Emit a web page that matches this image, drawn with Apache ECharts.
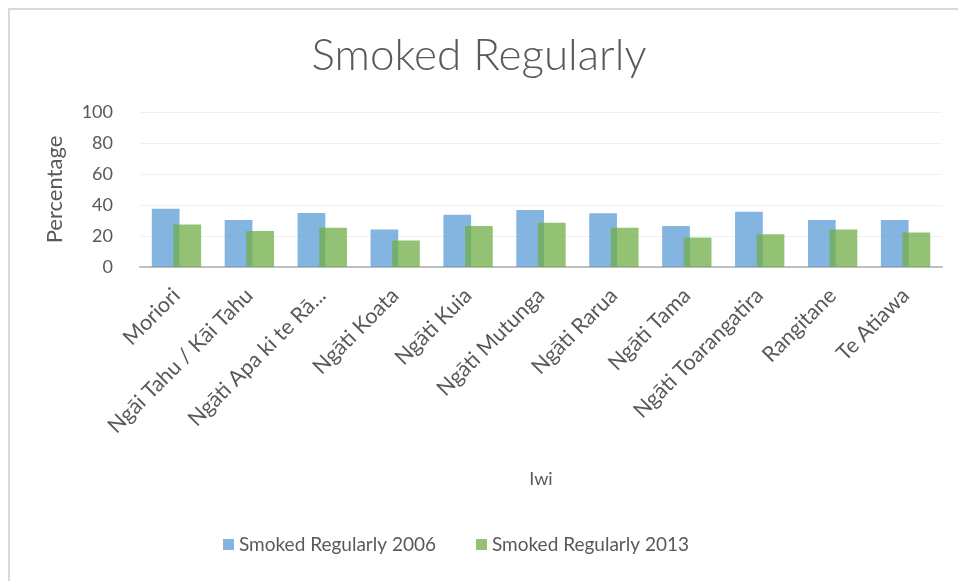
<!DOCTYPE html>
<html>
<head>
<meta charset="utf-8">
<script src="https://cdn.jsdelivr.net/npm/echarts@6/dist/echarts.min.js"></script>
<style>html,body{margin:0;padding:0;background:#fff;}#c{width:958px;height:581px;}</style>
</head>
<body>
<div id="c"></div>
<script>
const categories = ["Moriori","Ngāi Tahu / Kāi Tahu","Ngāti Apa ki te Rā...","Ngāti Koata","Ngāti Kuia","Ngāti Mutunga","Ngāti Rarua","Ngāti Tama","Ngāti Toarangatira","Rangitane","Te Atiawa"];
const series2006 = [37.6,30.4,34.8,24.2,33.7,36.7,34.6,26.4,35.6,30.4,30.4];
const series2013 = [27.5,23.3,25.3,17.1,26.4,28.5,25.3,19.0,21.2,24.2,22.3];
const seriesNames = ["Smoked Regularly 2006","Smoked Regularly 2013"];
const yTicks = {min:0,max:100,interval:20};

const FONT = "Lato, 'Open Sans', sans-serif";
const TXT = '#595959';
const chart = echarts.init(document.getElementById('c'), null, {renderer:'canvas'});
chart.setOption({
  animation:false,
  backgroundColor:'#fff',
  graphic:[{type:'rect',shape:{x:9,y:9,width:980,height:600},style:{fill:'none',stroke:'#d9d9d9',lineWidth:2},silent:true}],
  title:{text:'Smoked Regularly',left:'center',top:29,textStyle:{fontFamily:FONT,fontWeight:300,fontSize:44,color:TXT}},
  grid:{left:140,right:16,top:112,bottom:314,containLabel:false},
  legend:{bottom:22,left:218,itemWidth:11,itemHeight:11,itemGap:40,icon:'rect',
    textStyle:{fontFamily:FONT,fontSize:19,color:TXT},data:seriesNames},
  xAxis:{type:'category',data:categories,name:'Iwi',nameLocation:'middle',nameGap:203,
    nameTextStyle:{fontFamily:FONT,fontSize:18,color:TXT},
    axisLine:{lineStyle:{color:'#bfbfbf',width:2}},axisTick:{show:false},
    axisLabel:{rotate:45,interval:0,fontFamily:FONT,fontSize:21.5,color:TXT,margin:25}},
  yAxis:{type:'value',min:yTicks.min,max:yTicks.max,interval:yTicks.interval,name:'Percentage',nameLocation:'middle',nameGap:74,
    nameTextStyle:{fontFamily:FONT,fontSize:22,color:TXT},
    axisLine:{show:false},axisTick:{show:false},
    splitLine:{lineStyle:{color:'#f0f0f0',width:1}},
    axisLabel:{fontFamily:FONT,fontSize:18,color:TXT,margin:27}},
  series:[
    {name:seriesNames[0],type:'bar',data:series2006,barWidth:'38%',barGap:'-22%',itemStyle:{color:'#5B9BD5',opacity:0.75}},
    {name:seriesNames[1],type:'bar',data:series2013,barWidth:'38%',barGap:'-22%',itemStyle:{color:'#70AD47',opacity:0.75}}
  ]
});
</script>
</body>
</html>
